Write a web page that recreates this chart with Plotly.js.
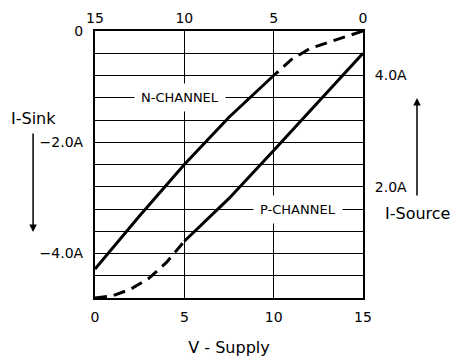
<!DOCTYPE html>
<html>
<head>
<meta charset="utf-8">
<script src="https://cdn.plot.ly/plotly-3.0.1.min.js"></script>
<style>
html,body{margin:0;padding:0;background:#fff;}
#chart{width:461px;height:358px;}
</style>
</head>
<body>
<div id="chart"></div>
<script>
// N-channel: top axis supply voltage (V) vs left axis sink current (A)
var nDashV  = [0, 0.5, 1, 2, 3, 4, 5];
var nDashI  = [0, -0.05, -0.10, -0.21, -0.32, -0.51, -0.80];
var nSolidV = [5, 7.5, 10, 12.5, 15];
var nSolidI = [-0.80, -1.55, -2.40, -3.32, -4.28];

// P-channel: bottom axis supply voltage (V) vs right axis source current (A)
var pDashV  = [0, 0.5, 1, 2, 3, 4, 5];
var pDashI  = [0, 0.015, 0.04, 0.16, 0.35, 0.64, 1.02];
var pSolidV = [5, 7.5, 10, 12.5, 15];
var pSolidI = [1.02, 1.79, 2.65, 3.52, 4.40];

// axis ticks
var bottomTicks = [0, 5, 10, 15];
var bottomText  = ["0", "5", "10", "15"];
var topTicks    = [15, 10, 5, 0];
var topText     = ["15", "10", "5", "0"];
var leftTicks   = [0, -0.4, -0.8, -1.2, -1.6, -2.0, -2.4, -2.8, -3.2, -3.6, -4.0, -4.4, -4.8];
var leftText    = ["0", "", "", "", "", "\u22122.0A", "", "", "", "", "\u22124.0A", "", ""];
var rightTicks  = [4.0, 2.0];
var rightText   = ["4.0A", "2.0A"];

var FONT = "DejaVu Sans, Arial, sans-serif";
var lineStyle = {color: "#000", width: 3};
var dashStyle = {color: "#000", width: 3, dash: "12px,7px"};

var traces = [
  {x: [], y: [], xaxis: "x", yaxis: "y", mode: "lines", hoverinfo: "skip", showlegend: false},
  {x: pSolidV, y: pSolidI, xaxis: "x",  yaxis: "y2", mode: "lines", line: lineStyle, hoverinfo: "skip", name: "P-CHANNEL"},
  {x: pDashV,  y: pDashI,  xaxis: "x",  yaxis: "y2", mode: "lines", line: dashStyle, hoverinfo: "skip", name: "P-CHANNEL low"},
  {x: nSolidV, y: nSolidI, xaxis: "x2", yaxis: "y", mode: "lines", line: lineStyle, hoverinfo: "skip", name: "N-CHANNEL"},
  {x: nDashV,  y: nDashI,  xaxis: "x2", yaxis: "y", mode: "lines", line: dashStyle, hoverinfo: "skip", name: "N-CHANNEL low"}
];

var axisCommon = {
  showline: true, linecolor: "#000", linewidth: 2,
  ticks: "", zeroline: false, fixedrange: true,
  tickfont: {family: FONT, size: 14, color: "#000"}
};

var layout = {
  width: 461, height: 358,
  margin: {l: 95, r: 98, t: 31, b: 60, pad: 0},
  paper_bgcolor: "#fff", plot_bgcolor: "#fff",
  showlegend: false,
  font: {family: FONT, size: 14, color: "#000"},
  xaxis: Object.assign({}, axisCommon, {
    range: [0, 15], tickmode: "array", tickvals: bottomTicks, ticktext: bottomText,
    showgrid: true, gridcolor: "#000", gridwidth: 1, mirror: true,
    ticklabelstandoff: 5,
    title: {text: "V - Supply", font: {family: FONT, size: 16, color: "#000"}, standoff: 18}
  }),
  xaxis2: Object.assign({}, axisCommon, {
    range: [15, 0], overlaying: "x", side: "top", anchor: "y",
    tickmode: "array", tickvals: topTicks, ticktext: topText,
    showgrid: false, ticklabelstandoff: 0
  }),
  yaxis: Object.assign({}, axisCommon, {
    range: [-4.8, 0], tickmode: "array", tickvals: leftTicks, ticktext: leftText,
    showgrid: true, gridcolor: "#000", gridwidth: 1, mirror: true,
    ticklabelstandoff: 7
  }),
  yaxis2: Object.assign({}, axisCommon, {
    range: [0, 4.8], overlaying: "y", side: "right", anchor: "x",
    tickmode: "array", tickvals: rightTicks, ticktext: rightText,
    showgrid: false, ticklabelstandoff: 7
  }),
  annotations: [
    {xref: "x", yref: "y", x: 4.74, y: -1.2, text: "N-CHANNEL", showarrow: false,
     xanchor: "center", yanchor: "middle",
     bgcolor: "#fff", borderpad: 6, font: {family: FONT, size: 13, color: "#000"}},
    {xref: "x", yref: "y", x: 11.38, y: -3.2, text: "P-CHANNEL", showarrow: false,
     xanchor: "center", yanchor: "middle",
     bgcolor: "#fff", borderpad: 6, font: {family: FONT, size: 13, color: "#000"}},
    {xref: "paper", yref: "paper", x: -0.231, y: 0.674, text: "I-Sink", showarrow: false,
     xanchor: "center", yanchor: "middle",
     font: {family: FONT, size: 16, color: "#000"}},
    {xref: "paper", yref: "paper", x: -0.231, y: 0.247, ax: 0, ay: -100, text: "",
     showarrow: true, arrowhead: 2, arrowsize: 1, arrowwidth: 1.5, arrowcolor: "#000"},
    {xref: "paper", yref: "paper", x: 1.205, y: 0.318, text: "I-Source", showarrow: false,
     xanchor: "center", yanchor: "middle",
     font: {family: FONT, size: 16, color: "#000"}},
    {xref: "paper", yref: "paper", x: 1.2015, y: 0.749, ax: 0, ay: 99, text: "",
     showarrow: true, arrowhead: 2, arrowsize: 1, arrowwidth: 1.5, arrowcolor: "#000"}
  ]
};

Plotly.newPlot("chart", traces, layout, {staticPlot: true, displayModeBar: false});
</script>
</body>
</html>
